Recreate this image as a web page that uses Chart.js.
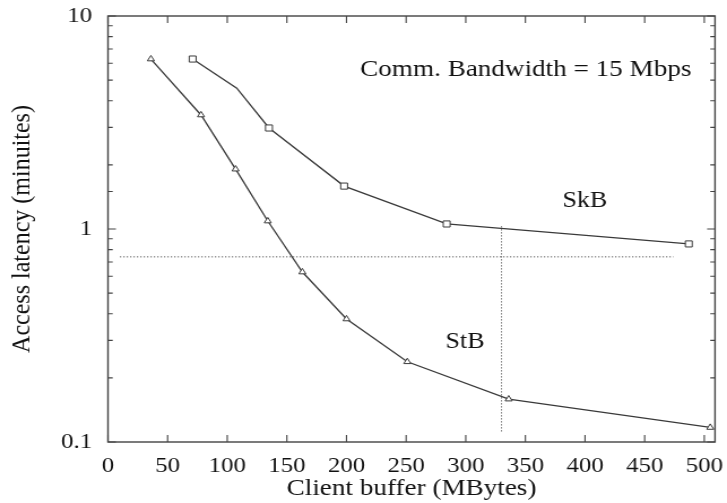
<!DOCTYPE html>
<html><head><meta charset="utf-8">
<script src="https://cdn.jsdelivr.net/npm/chart.js@4.4.0/dist/chart.umd.min.js"></script>
<style>
html,body{margin:0;padding:0;background:#fff;overflow:hidden;}
#wrap{width:643px;height:503px;transform:scaleX(1.13064);transform-origin:0 0;}
</style></head><body>
<div id="wrap"><canvas id="c" width="643" height="503"></canvas></div>
<script>
// ---- data ----
const bufferStB = [36, 78, 107, 134, 163, 200, 251, 336, 505];
const latencyStB = [6.28, 3.43, 1.91, 1.09, 0.628, 0.378, 0.238, 0.159, 0.117];
const bufferSkB = [71, 108, 135, 198, 284, 487];
const latencySkB = [6.28, 4.58, 2.98, 1.59, 1.056, 0.851];
const markedSkB = [true, false, true, true, true, true];
const refLatency = 0.74;            // horizontal dotted line
const refLatencySpan = [10, 474];   // buffer range of that line
const refBuffer = 330;              // vertical dotted line
const refBufferSpan = [1.03, 0.11]; // latency range of that line
const yLabelValues = [0.1, 1, 10];
const notes = [
  {text: 'Comm. Bandwidth = 15 Mbps', x: 211.5, y: 5.25, size: 24},
  {text: 'SkB', x: 381, y: 1.268, size: 23},
  {text: 'StB', x: 283, y: 0.276, size: 23}
];

const INK = '#3a3a3a';
const FONT = "'Liberation Serif', 'Times New Roman', serif";

const framePlugin = {
  id: 'frame',
  afterDraw(chart) {
    const {ctx, chartArea: a, scales: {x, y}} = chart;
    ctx.save();
    ctx.strokeStyle = '#444';
    ctx.lineWidth = 1.4;
    ctx.strokeRect(a.left, a.top, a.right - a.left, a.bottom - a.top);
    ctx.lineWidth = 1.1;
    ctx.beginPath();
    x.ticks.forEach(t => {
      const px = x.getPixelForValue(t.value);
      ctx.moveTo(px, a.bottom); ctx.lineTo(px, a.bottom - 7);
      ctx.moveTo(px, a.top); ctx.lineTo(px, a.top + 7);
    });
    y.ticks.forEach(t => {
      const lv = Math.log10(t.value);
      const major = Math.abs(lv - Math.round(lv)) < 1e-6;
      const L = major ? 7 : 4.2;
      const py = y.getPixelForValue(t.value);
      ctx.moveTo(a.left, py); ctx.lineTo(a.left + L, py);
      ctx.moveTo(a.right, py); ctx.lineTo(a.right - L, py);
    });
    ctx.stroke();
    ctx.fillStyle = '#111';
    ctx.textBaseline = 'alphabetic';
    ctx.textAlign = 'left';
    notes.forEach(n => {
      ctx.font = n.size + 'px ' + FONT;
      ctx.fillText(n.text, x.getPixelForValue(n.x), y.getPixelForValue(n.y));
    });
    ctx.restore();
  }
};

new Chart(document.getElementById('c'), {
  type: 'line',
  data: {
    datasets: [
      {
        label: 'ref-h',
        data: refLatencySpan.map(b => ({x: b, y: refLatency})),
        borderColor: '#555', borderWidth: 1, borderDash: [1.2, 1.8],
        pointRadius: 0, fill: false
      },
      {
        label: 'ref-v',
        data: refBufferSpan.map(l => ({x: refBuffer, y: l})),
        borderColor: '#555', borderWidth: 1, borderDash: [1.2, 1.8],
        pointRadius: 0, fill: false
      },
      {
        label: 'SkB',
        data: bufferSkB.map((b, i) => ({x: b, y: latencySkB[i]})),
        borderColor: INK, borderWidth: 1.3,
        pointStyle: 'rect',
        pointRadius: markedSkB.map(m => m ? 4.3 : 0),
        pointBackgroundColor: '#fff', pointBorderColor: INK, pointBorderWidth: 1,
        tension: 0, fill: false
      },
      {
        label: 'StB',
        data: bufferStB.map((b, i) => ({x: b, y: latencyStB[i]})),
        borderColor: INK, borderWidth: 1.3,
        pointStyle: 'triangle', pointRadius: 3.6,
        pointBackgroundColor: '#fff', pointBorderColor: INK, pointBorderWidth: 1,
        tension: 0, fill: false
      }
    ]
  },
  options: {
    responsive: false,
    animation: false,
    events: [],
    layout: {padding: {left: 0, top: 16, right: 10.6, bottom: 0}},
    plugins: {legend: {display: false}, tooltip: {enabled: false}},
    scales: {
      x: {
        type: 'linear', min: 0, max: 509,
        grid: {display: false, drawTicks: false},
        border: {display: false},
        ticks: {
          stepSize: 50, includeBounds: false, autoSkip: false, maxRotation: 0,
          padding: 11, color: '#111', font: {family: FONT, size: 22}
        },
        title: {
          display: true, text: 'Client buffer (MBytes)', color: '#111',
          font: {family: FONT, size: 24}, padding: {top: 0, bottom: 0}
        },
        afterFit(s) { s.height = 61; s.paddingLeft = 0; s.paddingRight = 0; }
      },
      y: {
        type: 'logarithmic', min: 0.1, max: 10,
        grid: {display: false, drawTicks: false},
        border: {display: false},
        ticks: {
          autoSkip: false, padding: 14, color: '#111',
          font: {family: FONT, size: 22},
          callback: (v) => {
            const hit = yLabelValues.find(t => Math.abs(t - v) < 1e-9);
            return hit === undefined ? '' : String(hit);
          }
        },
        title: {
          display: true, text: 'Access latency (minuites)', color: '#111',
          font: {family: FONT, size: 24}, padding: {top: 5, bottom: 0}
        },
        afterFit(s) { s.width = 95.5; s.paddingTop = 0; s.paddingBottom = 0; }
      }
    }
  },
  plugins: [framePlugin]
});
</script>
</body></html>
